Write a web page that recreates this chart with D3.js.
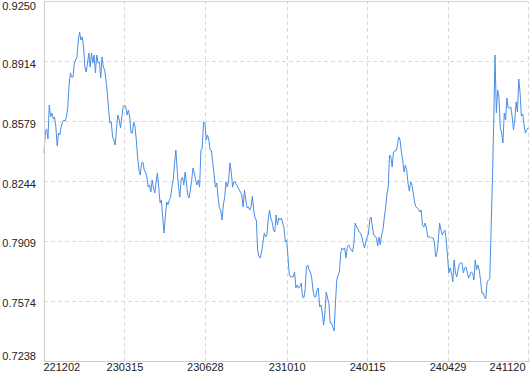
<!DOCTYPE html>
<html>
<head>
<meta charset="utf-8">
<script src="https://cdn.jsdelivr.net/npm/d3@7"></script>
<style>
body { margin: 0; background: #fff; }
svg { display: block; font-family: "DejaVu Sans Condensed", "Liberation Sans", Arial, sans-serif; }
.grid line { stroke: #dadada; stroke-dasharray: 4,3; shape-rendering: crispEdges; }
.grid text { font-size: 11px; fill: #222; }
.frame { stroke: #cccccc; shape-rendering: crispEdges; }
.nav { fill: none; stroke: #4a8ee6; stroke-width: 1; }
</style>
</head>
<body>
<div id="chart"></div>
<script>
// values, one per trading day (roughly)
var navValues = [
  0.8400,0.8512,0.8535,0.8479,0.8669,0.8602,0.8624,0.8591,0.8602,0.8546,
  0.8440,0.8512,0.8501,0.8546,0.8574,0.8585,0.8579,0.8602,0.8652,0.8781,
  0.8848,0.8825,0.8825,0.8903,0.8920,0.8937,0.9032,0.9077,0.9032,0.9049,
  0.8993,0.8881,0.8853,0.8903,0.8959,0.8881,0.8959,0.8903,0.8948,0.8848,
  0.8948,0.8903,0.8909,0.8820,0.8937,0.8881,0.8864,0.8808,0.8736,0.8641,
  0.8568,0.8574,0.8490,0.8473,0.8445,0.8540,0.8613,0.8585,0.8540,0.8602,
  0.8658,0.8669,
  0.8658,0.8613,0.8641,0.8602,0.8512,0.8512,0.8574,0.8546,0.8473,0.8378,
  0.8305,0.8277,0.8345,0.8350,0.8305,0.8294,0.8266,0.8210,0.8222,0.8182,
  0.8249,0.8205,0.8177,0.8238,0.8289,0.8210,0.8121,0.8138,0.8043,0.7953,
  0.8043,0.8127,0.8110,0.8138,0.8154,0.8210,0.8249,0.8345,0.8417,0.8305,
  0.8210,0.8154,0.8249,0.8266,0.8222,0.8294,0.8233,0.8166,0.8149,0.8194,
  0.8249,0.8317,0.8289,0.8249,0.8222,0.8249,0.8210,0.8417,0.8428,0.8574,
  0.8568,0.8473,0.8501,0.8473,0.8417,0.8412,0.8345,0.8277,0.8210,0.8233,
  0.8154,0.8093,0.8082,0.8026,0.8110,0.8154,0.8238,0.8210,0.8249,0.8345,
  0.8294,0.8210,0.8238,0.8238,0.8222,0.8210,0.8194,0.8182,0.8166,0.8099,
  0.8194,0.8138,0.8093,0.8099,0.8082,0.8099,0.8160,0.8082,0.8037,0.8026,
  0.7859,0.7820,0.7814,0.7848,0.7898,0.7953,0.7931,0.7942,0.8026,0.8082,
  0.8037,0.8015,0.7970,0.7959,0.8054,0.7998,0.8037,0.8026,0.8037,0.8009,
  0.7981,0.7903,
  0.7915,0.7820,0.7719,0.7708,0.7708,0.7708,0.7736,0.7646,0.7663,0.7646,
  0.7652,0.7674,0.7596,0.7590,0.7635,0.7764,0.7775,0.7747,0.7736,0.7702,
  0.7635,0.7596,0.7596,0.7635,0.7646,0.7540,0.7551,0.7506,0.7439,0.7506,
  0.7624,0.7590,0.7562,0.7450,0.7450,0.7428,0.7406,0.7562,0.7691,0.7719,
  0.7736,0.7842,0.7870,0.7859,0.7870,0.7814,0.7876,0.7887,0.7870,0.7859,
  0.7848,0.7898,0.8009,0.7987,0.7976,0.7959,0.7953,0.7931,0.7898,0.7870,
  0.7903,0.7931,0.7948,0.8026,0.8043,0.7987,0.7942,0.7937,0.7926,0.7881,
  0.7931,0.7887,0.7942,0.7970,0.8037,0.8093,0.8166,0.8210,0.8389,0.8378,
  0.8322,0.8406,0.8412,0.8412,0.8445,0.8490,0.8473,0.8406,0.8361,0.8294,
  0.8333,0.8305,0.8233,0.8188,0.8238,0.8222,0.8177,0.8127,0.8099,0.8093,
  0.8087,0.8071,0.8082,0.7998,0.7987,0.8009,0.7981,0.7931,0.7931,0.7931,
  0.7926,0.7926,0.7903,0.7820,0.7842,0.7915,0.8009,0.7970,0.7942,0.7959,
  0.7970,
  0.7915,0.7820,0.7730,0.7758,0.7730,0.7680,0.7803,0.7730,0.7708,0.7747,
  0.7781,0.7786,0.7786,0.7730,0.7758,0.7764,0.7730,0.7702,0.7719,0.7736,
  0.7730,0.7691,0.7803,0.7747,0.7775,0.7747,0.7691,0.7618,0.7618,0.7596,
  0.7585,0.7680,0.7691,0.7697,0.7970,0.8249,0.8568,0.8948,0.8624,0.8753,
  0.8708,0.8540,0.8512,0.8456,0.8624,0.8585,0.8708,0.8652,0.8652,0.8658,
  0.8602,0.8529,0.8585,0.8686,0.8630,0.8814,0.8736,0.8607,0.8618,0.8557,
  0.8512,0.8529,0.8540
];

var yTickValues = [0.7238, 0.7574, 0.7909, 0.8244, 0.8579, 0.8914, 0.9250];
var xTickLabels = ["221202", "230315", "230628", "231010", "240115", "240429", "241120"];

var width = 530, height = 374;
var plotLeft = 44, plotRight = 528, plotTop = 1, plotBottom = 361;
var n = navValues.length;

// tick labels sit on evenly spaced points of the series
var xTickIdx = xTickLabels.map(function(d, i) { return Math.round(i * (n - 1) / (xTickLabels.length - 1)); });

var x = d3.scaleLinear().domain([0, n - 1]).range([plotLeft, plotRight]);
var y = d3.scaleLinear().domain([yTickValues[0], yTickValues[yTickValues.length - 1]]).range([plotBottom, plotTop]);

var svg = d3.select("#chart")
    .append("svg")
    .attr("width", width)
    .attr("height", height);

// horizontal grid + y labels
var yAxis = d3.axisLeft(y)
    .tickValues(yTickValues)
    .tickSize(-(plotRight - plotLeft))
    .tickPadding(8)
    .tickFormat(d3.format(".4f"));

var gy = svg.append("g")
    .attr("class", "grid")
    .attr("transform", "translate(" + plotLeft + ",0)")
    .call(yAxis);
gy.select(".domain").remove();
gy.selectAll(".tick text")
    .attr("dy", function(d, i) {
        if (i == 0) return "-1.5px";
        if (i == yTickValues.length - 1) return "8.5px";
        return "6px";
    });
gy.selectAll(".tick line")
    .filter(function(d, i) { return i == yTickValues.length - 1; })
    .style("stroke-dasharray", "none")
    .style("stroke", "#d4d4d4");

// vertical grid + x labels
var xAxis = d3.axisBottom(x)
    .tickValues(xTickIdx)
    .tickSize(-(plotBottom - plotTop))
    .tickFormat(function(d, i) { return xTickLabels[i]; });

var gx = svg.append("g")
    .attr("class", "grid")
    .attr("transform", "translate(0," + plotBottom + ")")
    .call(xAxis);
gx.select(".domain").remove();
gx.selectAll(".tick text")
    .attr("y", 10)
    .attr("dy", 0)
    .attr("text-anchor", function(d, i) {
        if (i == 0) return "start";
        if (i == xTickLabels.length - 1) return "end";
        return "middle";
    })
    .attr("x", function(d, i) {
        if (i == 0) return -1;
        if (i == xTickLabels.length - 1) return -3;
        return 0;
    });

// the series
var line = d3.line()
    .x(function(d, i) { return x(i); })
    .y(function(d) { return y(d); });

svg.append("path")
    .datum(navValues)
    .attr("class", "nav")
    .attr("d", line);

// left and bottom frame
svg.append("line").attr("class", "frame")
    .attr("x1", plotLeft).attr("x2", plotLeft).attr("y1", plotTop).attr("y2", plotBottom);
svg.append("line").attr("class", "frame")
    .attr("x1", plotLeft).attr("x2", plotRight + 2).attr("y1", plotBottom).attr("y2", plotBottom);
</script>
</body>
</html>
